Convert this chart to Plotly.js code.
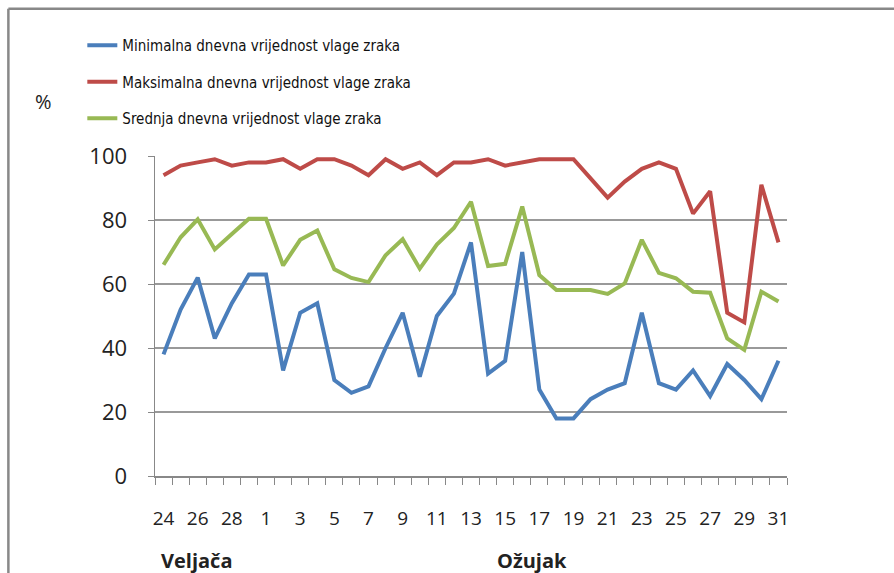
<!DOCTYPE html>
<html>
<head>
<meta charset="utf-8">
<script src="https://cdn.plot.ly/plotly-3.0.1.min.js"></script>
<style>html,body{margin:0;padding:0;background:#fff;}#chart{width:894px;height:573px;}</style>
</head>
<body>
<div id="chart"></div>
<script>
const days = ["2012-02-24","2012-02-25","2012-02-26","2012-02-27","2012-02-28","2012-02-29",
  "2012-03-01","2012-03-02","2012-03-03","2012-03-04","2012-03-05","2012-03-06","2012-03-07",
  "2012-03-08","2012-03-09","2012-03-10","2012-03-11","2012-03-12","2012-03-13","2012-03-14",
  "2012-03-15","2012-03-16","2012-03-17","2012-03-18","2012-03-19","2012-03-20","2012-03-21",
  "2012-03-22","2012-03-23","2012-03-24","2012-03-25","2012-03-26","2012-03-27","2012-03-28",
  "2012-03-29","2012-03-30","2012-03-31"];
const minVals = [38,52,62,43,54,63,63,33,51,54,30,26,28,40,51,31,50,57,73,32,36,70,27,18,18,24,27,29,51,29,27,33,25,35,30,24,36];
const maxVals = [94,97,98,99,97,98,98,99,96,99,99,97,94,99,96,98,94,98,98,99,97,98,99,99,99,93,87,92,96,98,96,82,89,51,48,91,73];
const avgVals = [66,74.6,80.2,70.8,75.6,80.4,80.4,65.8,73.8,76.7,64.6,61.9,60.6,69,74,64.8,72.3,77.5,85.7,65.6,66.3,84.2,62.8,58.1,58.1,58.1,56.9,60.2,73.8,63.5,61.8,57.6,57.3,43,39.4,57.6,54.5];
const seriesNames = ["Minimalna dnevna vrijednost vlage zraka","Maksimalna dnevna vrijednost vlage zraka","Srednja dnevna vrijednost vlage zraka"];
const colors = ["#4A7EBB","#BE4B48","#98B954"];
const yTicks = [0,20,40,60,80,100];

const series = [minVals, maxVals, avgVals];
const traces = series.map((v,i)=>({
  x: days, y: v, type:"scatter", mode:"lines", name: seriesNames[i],
  legendgroup: "g"+i,
  line:{color:colors[i], width:4}
}));

const layout = {
  width:894, height:573,
  margin:{l:154.5, r:106.5, t:156, b:97},
  paper_bgcolor:"#fff", plot_bgcolor:"#fff",
  font:{family:"Open Sans, Liberation Sans, sans-serif", color:"#222"},
  showlegend:true,
  legend:{x:-0.115, xanchor:"left", y:1.397, yanchor:"top", tracegroupgap:14,
    font:{family:"DejaVu Sans Condensed, Liberation Sans, sans-serif", size:15, color:"#111"},
    bgcolor:"rgba(0,0,0,0)"},
  xaxis:{type:"date", range:["2012-02-23 12:00","2012-03-31 12:00"],
    tick0:"2012-02-24", dtick:172800000, tickformat:"%-d", ticks:"",
    showgrid:false, showline:true, linecolor:"#888", linewidth:1.5,
    ticklabelstandoff:25,
    tickfont:{size:19, color:"#222"}, zeroline:false,
    minor:{ticks:"outside", tick0:"2012-02-23 12:00", dtick:86400000, ticklen:7, tickcolor:"#888", tickwidth:1, showgrid:false}},
  yaxis:{range:[0,100], tickvals:yTicks, ticks:"outside", ticklen:6, tickcolor:"#888",
    ticklabelstandoff:16,
    showgrid:true, gridcolor:"#999", gridwidth:1.2, showline:true, linecolor:"#888", linewidth:1.5,
    tickfont:{size:22, color:"#222"}, zeroline:false},
  shapes:[
    {type:"line", xref:"paper", yref:"paper", x0:-0.232, x1:1.2, y0:1.46, y1:1.46, line:{color:"#888", width:2.5}},
    {type:"line", xref:"paper", yref:"paper", x0:-0.232, x1:-0.232, y0:1.46, y1:-0.35, line:{color:"#888", width:2.5}}
  ],
  annotations:[
    {text:"%", xref:"paper", yref:"paper", x:-0.177, y:1.17, xanchor:"center", yanchor:"middle", showarrow:false, font:{size:20, color:"#222"}},
    {text:"<b>Veljača</b>", xref:"paper", yref:"paper", x:0.006, y:-0.263, xanchor:"left", yanchor:"middle", showarrow:false, font:{size:20, color:"#222"}},
    {text:"<b>Ožujak</b>", xref:"paper", yref:"paper", x:0.538, y:-0.263, xanchor:"left", yanchor:"middle", showarrow:false, font:{size:20, color:"#222"}}
  ]
};
Plotly.newPlot("chart", traces, layout, {displayModeBar:false, staticPlot:true});
</script>
</body>
</html>
